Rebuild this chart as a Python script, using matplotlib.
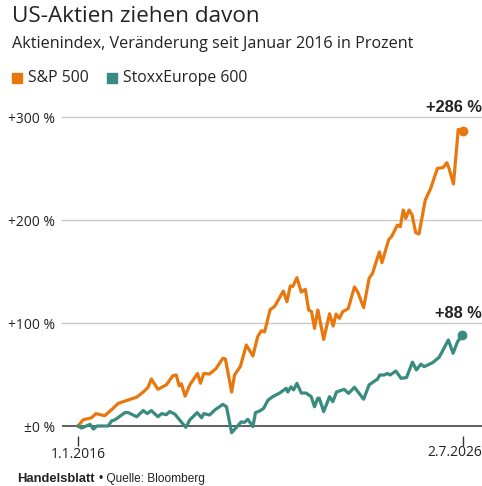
import matplotlib
matplotlib.use("Agg")
import matplotlib.pyplot as plt
from matplotlib.patches import Rectangle

# decimal years and percent change since January 2016
sp_years = [2016.00, 2016.14, 2016.37, 2016.49, 2016.73, 2016.92, 2017.10, 2017.60, 2017.78, 2017.91,
            2018.00, 2018.18, 2018.41, 2018.59, 2018.68, 2018.76, 2018.82, 2018.92, 2019.05, 2019.26,
            2019.34, 2019.43, 2019.59, 2019.77, 2019.95, 2020.02, 2020.19, 2020.27, 2020.43, 2020.59,
            2020.77, 2020.90, 2021.00, 2021.09, 2021.24, 2021.36, 2021.60, 2021.70, 2021.79, 2021.86,
            2021.97, 2022.09, 2022.20, 2022.29, 2022.37, 2022.45, 2022.54, 2022.58, 2022.70, 2022.86,
            2022.96, 2023.04, 2023.13, 2023.22, 2023.37, 2023.54, 2023.63, 2023.79, 2023.94, 2024.03,
            2024.22, 2024.29, 2024.47, 2024.56, 2024.71, 2024.79, 2024.87, 2024.94, 2025.03, 2025.11,
            2025.21, 2025.30, 2025.47, 2025.62, 2025.80, 2025.96, 2026.06, 2026.12, 2026.24, 2026.37,
            2026.44, 2026.50]
sp_values = [0, 6, 8, 12, 10, 16, 22, 28, 33, 37.5,
             45.6, 35.6, 40, 49, 49.5, 39, 41, 29, 40, 51,
             41.5, 51, 50.5, 56, 65.7, 65, 33, 49.5, 58, 78.6,
             68, 86.7, 92.5, 91.5, 113, 116, 131, 120.7, 136, 135.5,
             144, 130, 132.7, 112.6, 111, 94.8, 112.6, 106, 84, 109,
             97, 108.7, 104.5, 111, 114, 135, 130, 115, 143.4, 148,
             169, 158.6, 180.6, 184.5, 195, 193.5, 209.7, 201.6, 209.7, 205,
             187.7, 186.4, 219.4, 230.7, 250, 251, 255.6, 250, 235, 288,
             286, 286]

stoxx_years = [2016.00, 2016.10, 2016.33, 2016.42, 2016.52, 2016.82, 2016.92, 2017.01, 2017.28, 2017.37,
               2017.60, 2017.78, 2017.89, 2018.00, 2018.18, 2018.28, 2018.41, 2018.50, 2018.64, 2018.77,
               2018.94, 2019.05, 2019.25, 2019.37, 2019.43, 2019.59, 2019.73, 2019.95, 2020.05, 2020.19,
               2020.32, 2020.45, 2020.54, 2020.63, 2020.77, 2020.84, 2020.95, 2021.06, 2021.18, 2021.31,
               2021.50, 2021.68, 2021.72, 2021.81, 2021.88, 2021.97, 2022.09, 2022.22, 2022.36, 2022.45,
               2022.54, 2022.58, 2022.70, 2022.86, 2022.95, 2023.05, 2023.26, 2023.38, 2023.54, 2023.79,
               2023.94, 2024.17, 2024.23, 2024.35, 2024.44, 2024.51, 2024.67, 2024.81, 2024.96, 2025.12,
               2025.23, 2025.35, 2025.44, 2025.67, 2025.85, 2026.10, 2026.23, 2026.35, 2026.48]
stoxx_values = [0, -2, 1.6, -3, 0, 0, 5, 6, 13, 13,
                9, 15, 12, 15, 9, 12, 11, 14, 11.6, 6,
                -1.3, 6, 13, 8, 12, 10.7, 15.5, 21, 18.7, -6.5,
                -1.3, 4, 3.5, 6.5, -0.6, 13, 14.5, 17, 25, 28.5,
                32, 36.6, 33, 38, 35, 41.4, 32, 32, 28.5, 18.7,
                27, 27, 14, 28.5, 23.6, 33, 35.6, 31.7, 37.6, 26,
                40, 45.6, 49.5, 49.5, 51, 49.5, 53.4, 46.3, 47, 62,
                54.4, 60, 57.6, 61.5, 66.7, 83.5, 70.6, 81.8, 88]

series_names = ["S&P 500", "StoxxEurope 600"]
end_labels = ["+286 %", "+88 %"]
y_ticks = [0, 100, 200, 300]
y_tick_labels = ["±0 %", "+100 %", "+200 %", "+300 %"]
x_ticks = [2016.0, 2026.5]
x_tick_labels = ["1.1.2016", "2.7.2026"]

orange = "#e8780e"
teal = "#398a7f"
text_col = "#222222"
sans = ["Open Sans", "DejaVu Sans"]
arial = ["Liberation Sans", "DejaVu Sans"]

fig = plt.figure(figsize=(4.82, 4.86), dpi=100)
ax = fig.add_axes([62 / 482, 1 - 436.3 / 486, 420 / 482, (436.3 - 117) / 486])
ax.set_xlim(2015.564, 2027.018)
ax.set_ylim(-10, 300)

for v in y_ticks[1:]:
    ax.axhline(v, color="#c8c8c8", lw=1.0, zorder=1, clip_on=False)
ax.axhline(0, color="#333333", lw=1.1, zorder=1)

ax.plot(sp_years, sp_values, color=orange, lw=2.3, solid_joinstyle="round", zorder=3, clip_on=False)
ax.plot(stoxx_years, stoxx_values, color=teal, lw=2.3, solid_joinstyle="round", zorder=3, clip_on=False)
ax.plot(sp_years[-1], sp_values[-1], "o", color=orange, ms=6, zorder=4, clip_on=False)
ax.plot(stoxx_years[-1], stoxx_values[-1], "o", color=teal, ms=6, zorder=4, clip_on=False)

for s in ax.spines.values():
    s.set_visible(False)
ax.set_yticks(y_ticks)
ax.set_yticklabels(y_tick_labels, family=sans, fontsize=10, color=text_col)
ax.tick_params(axis="y", length=0, pad=5)
ax.set_xticks(x_ticks)
ax.set_xticklabels([x_tick_labels[0], ""], family=sans, fontsize=10, color=text_col)
ax.tick_params(axis="x", length=7, width=1, color="#333333", pad=0.5)
# last date label sits flush with the right edge
ax.text(1.0, -0.028, x_tick_labels[1], transform=ax.transAxes, ha="right", va="top",
        family=sans, fontsize=10, color=text_col)

# end value labels
ax.text(1.0, 300 + 1.5, end_labels[0], transform=ax.get_yaxis_transform(), ha="right", va="bottom",
        family=arial, fontsize=11.8, fontweight="bold", color=text_col)
ax.text(1.0, 100 + 2, end_labels[1], transform=ax.get_yaxis_transform(), ha="right", va="bottom",
        family=arial, fontsize=11.8, fontweight="bold", color=text_col)

# title, subtitle, legend
fig.text(12 / 482, 1 - 17 / 486, "US-Aktien ziehen davon", family=sans, fontsize=16.2,
         color=text_col, va="center", ha="left")
fig.text(12 / 482, 1 - 44 / 486, "Aktienindex, Veränderung seit Januar 2016 in Prozent", family=sans,
         fontsize=11.6, color=text_col, va="center", ha="left")
leg_x = [12, 107]
for name, col, lx in zip(series_names, [orange, teal], leg_x):
    fig.patches.append(Rectangle((lx / 482, 1 - 83 / 486), 10 / 482, 10 / 486,
                                 transform=fig.transFigure, color=col))
    fig.text((lx + 16) / 482, 1 - 78 / 486, name, family=sans, fontsize=11.3,
             color=text_col, va="center", ha="left")

# footer
fig.text(17 / 482, 1 - 479 / 486, "Handelsblatt", family=arial, fontsize=9.4, fontweight="bold",
         color=text_col, va="center", ha="left")
fig.text(99 / 482, 1 - 479 / 486, "• Quelle: Bloomberg", family=arial, fontsize=8.6,
         color=text_col, va="center", ha="left")

fig.savefig("out.png", dpi=100)
